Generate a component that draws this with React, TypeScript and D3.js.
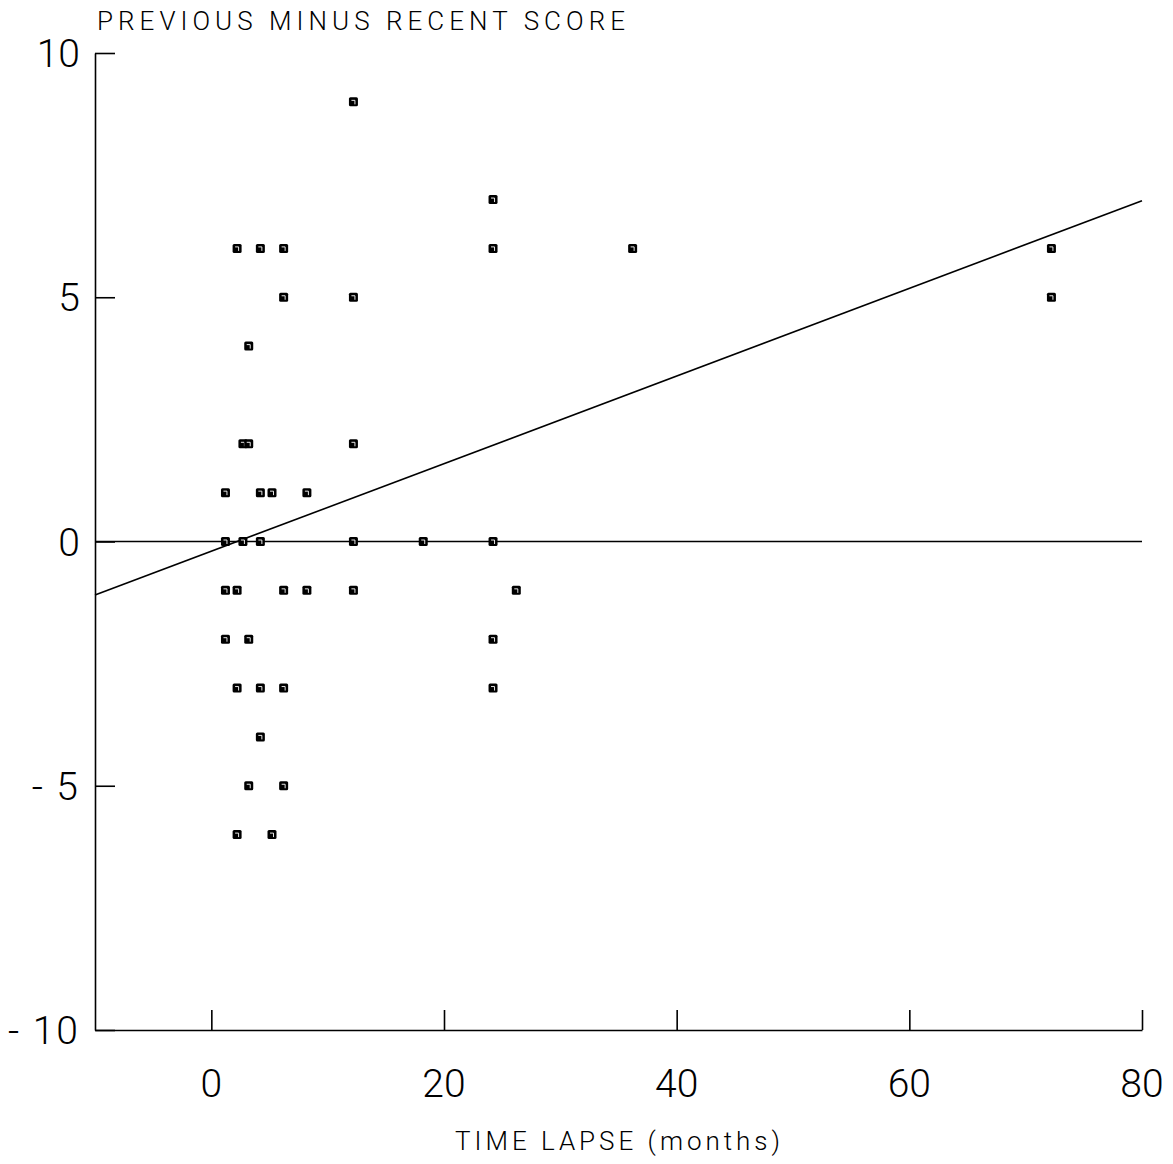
import React, { useRef, useEffect } from 'react';
import * as d3 from 'd3';

// data
const timeLapse = [
  12,
  24,
  2, 4, 6, 24, 36, 72,
  6, 12, 72,
  3,
  2.5, 3, 12,
  1, 4, 5, 8,
  1, 2.5, 4, 12, 18, 24,
  1, 2, 6, 8, 12, 26,
  1, 3, 24,
  2, 4, 6, 24,
  4,
  3, 6,
  2, 5,
];
const scoreDiff = [
  9,
  7,
  6, 6, 6, 6, 6, 6,
  5, 5, 5,
  4,
  2, 2, 2,
  1, 1, 1, 1,
  0, 0, 0, 0, 0, 0,
  -1, -1, -1, -1, -1, -1,
  -2, -2, -2,
  -3, -3, -3, -3,
  -4,
  -5, -5,
  -6, -6,
];
const xTicks = [0, 20, 40, 60, 80];
const yTicks = [-10, -5, 0, 5, 10];
const regIntercept = -0.2;
const regSlope = 0.0897;
const title = 'PREVIOUS MINUS RECENT SCORE';
const xTitle = 'TIME LAPSE (months)';

const App = () => {
  const chartRef = useRef(null);

  useEffect(() => {
    document.body.style.margin = '0';
    d3.select(chartRef.current).html('');

    const width = 1173;
    const height = 1164;
    const left = 95, right = 1142, top = 53, bottom = 1030;
    const font = 'Roboto, "Liberation Sans", sans-serif';

    const x = d3.scaleLinear().domain([-10, 80]).range([left, right]);
    const y = d3.scaleLinear().domain([-10, 10]).range([bottom, top]);

    const svg = d3
      .select(chartRef.current)
      .append('svg')
      .attr('width', width)
      .attr('height', height)
      .style('display', 'block')
      .style('background', '#fff');

    // title
    svg.append('text')
      .attr('x', 97)
      .attr('y', 30)
      .attr('font-family', font)
      .attr('font-weight', 300)
      .attr('font-size', 26)
      .attr('textLength', 528)
      .attr('lengthAdjust', 'spacing')
      .text(title);

    // x axis (ticks pointing up)
    const xAxis = d3.axisTop(x).tickValues(xTicks).tickSize(20).tickFormat(() => '').tickSizeOuter(0);
    const gx = svg.append('g').attr('transform', `translate(0,${bottom})`).call(xAxis);
    gx.select('.domain').attr('stroke', '#000').attr('stroke-width', 1.6);
    gx.selectAll('.tick line').attr('stroke', '#000').attr('stroke-width', 1.6);

    svg.append('g')
      .selectAll('text')
      .data(xTicks)
      .join('text')
      .attr('x', d => x(d))
      .attr('y', 1097)
      .attr('text-anchor', 'middle')
      .attr('font-family', font)
      .attr('font-weight', 300)
      .attr('font-size', 39)
      .text(d => d);

    // y axis (ticks pointing right)
    const yAxis = d3.axisRight(y).tickValues(yTicks).tickSize(20).tickFormat(() => '').tickSizeOuter(0);
    const gy = svg.append('g').attr('transform', `translate(${left},0)`).call(yAxis);
    gy.select('.domain').attr('stroke', '#000').attr('stroke-width', 1.6);
    gy.selectAll('.tick line').attr('stroke', '#000').attr('stroke-width', 1.6);

    svg.append('g')
      .selectAll('text')
      .data(yTicks)
      .join('text')
      .attr('x', 80)
      .attr('y', d => y(d) + 14)
      .attr('text-anchor', 'end')
      .attr('font-family', font)
      .attr('font-weight', 300)
      .attr('font-size', 39)
      .attr('letter-spacing', d => (d < 0 ? 2 : 0))
      .text(d => (d < 0 ? '- ' + Math.abs(d) : d));

    // x title
    svg.append('text')
      .attr('x', 455)
      .attr('y', 1150)
      .attr('font-family', font)
      .attr('font-weight', 300)
      .attr('font-size', 26)
      .attr('textLength', 325)
      .attr('lengthAdjust', 'spacing')
      .text(xTitle);

    // zero line
    svg.append('line')
      .attr('x1', x(-10)).attr('x2', x(80))
      .attr('y1', y(0)).attr('y2', y(0))
      .attr('stroke', '#000').attr('stroke-width', 1.5);

    // regression line
    const line = d3.line().x(d => x(d)).y(d => y(regIntercept + regSlope * d));
    svg.append('path')
      .datum([-10, 80])
      .attr('d', line)
      .attr('fill', 'none')
      .attr('stroke', '#000')
      .attr('stroke-width', 1.6);

    // points
    const pts = svg.append('g')
      .selectAll('g')
      .data(timeLapse.map((t, i) => [t, scoreDiff[i]]))
      .join('g')
      .attr('transform', d => `translate(${x(d[0]) + 2.5},${y(d[1])})`);
    pts.append('rect')
      .attr('x', -4.5).attr('y', -4.5)
      .attr('width', 9).attr('height', 9)
      .attr('rx', 1.5)
      .attr('fill', '#000');
    pts.append('path')
      .attr('d', 'M-2,-1.5H1.5V2.5')
      .attr('fill', 'none')
      .attr('stroke', '#fff')
      .attr('stroke-width', 0.9);
  }, []);

  return <div ref={chartRef} />;
};

export default App;
